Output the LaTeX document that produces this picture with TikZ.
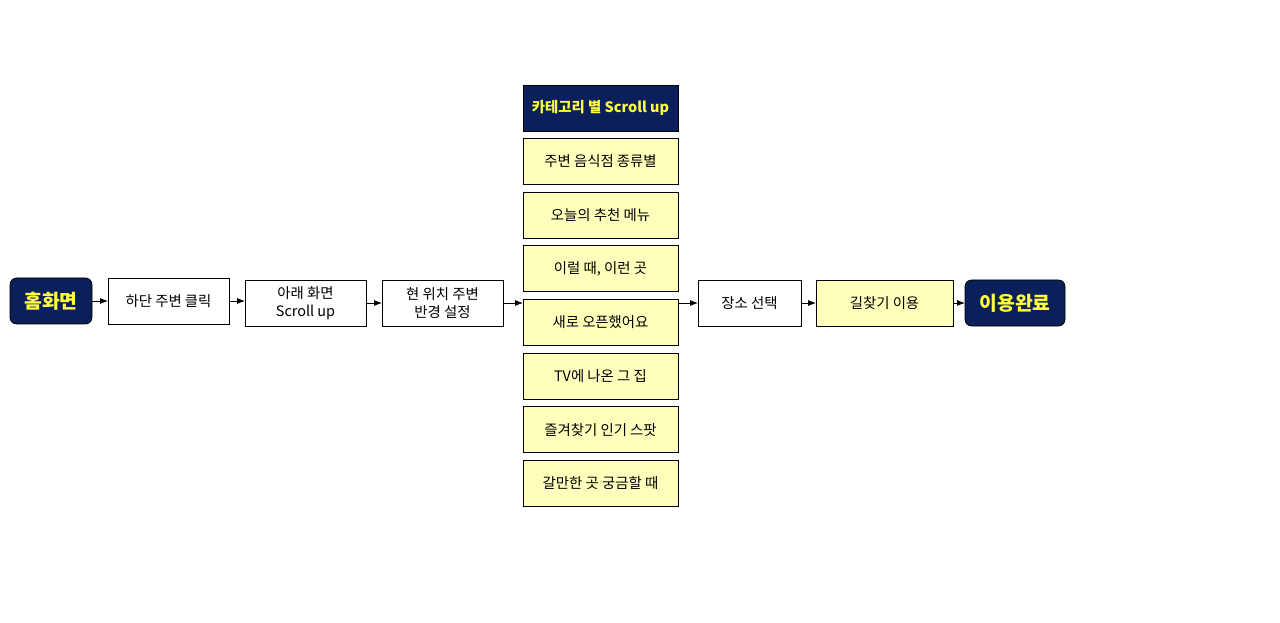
\documentclass[tikz,border=0pt]{standalone}
\usepackage{fontspec}
\setmainfont{Noto Sans CJK KR}
\usepackage{tikz}
\usetikzlibrary{arrows.meta}
\usetikzlibrary{positioning}
\definecolor{navy}{HTML}{0B1F5B}
\definecolor{hiyellow}{HTML}{FFFF3C}
\definecolor{paleyellow}{HTML}{FFFFBB}
\tikzset{%
  base/.style = {rectangle, draw=black, line width=0.6pt, minimum height=34.5pt, inner sep=0pt, outer sep=0pt, font=\fontsize{10.8}{13.5}\selectfont},
  endpoint/.style = {fill=navy, draw=black, rounded corners=5pt, text=hiyellow, font=\fontsize{14.5}{17}\selectfont\bfseries},
  choice/.style = {fill=paleyellow, minimum width=116.25pt},
  header/.style = {fill=navy, text=hiyellow, minimum width=116.25pt, font=\fontsize{10.8}{13.5}\selectfont\bfseries}
}

\begin{document}
\begin{tikzpicture}[%
    x=0.75pt, y=-0.75pt,
    node distance=12pt,
    every node/.style={base},
    >={Latex[length=6pt,width=4.5pt]},
    line width=0.6pt,
    align=center]

  \useasboundingbox[fill=white] (0,0) rectangle (1280,623);

  % Specification of nodes (position, etc.)
  \node (home) [endpoint, minimum width=61.5pt] at (51,301) {홈화면};
  \node (bottom-click) [right=of home, minimum width=90.75pt] {하단 주변 클릭};
  \node (scroll-down) [right=of bottom-click, minimum width=90.75pt, yshift=-1.5pt] {아래 화면\\Scroll up};
  \node (radius) [right=of scroll-down, minimum width=90.75pt] {현 위치 주변\\반경 설정};

  % category column
  \node (cat-head) [header] at (600.5,108) {카테고리 별 Scroll up};
  \node (cat-food) [choice, below=5.7pt of cat-head] {주변 음식점 종류별};
  \node (cat-menu) [choice, below=5.7pt of cat-food] {오늘의 추천 메뉴};
  \node (cat-when) [choice, below=5.7pt of cat-menu] {이럴 때, 이런 곳};
  \node (cat-new) [choice, below=5.7pt of cat-when] {새로 오픈했어요};
  \node (cat-tv) [choice, below=5.7pt of cat-new] {TV에 나온 그 집};
  \node (cat-fav) [choice, below=5.7pt of cat-tv] {즐겨찾기 인기 스팟};
  \node (cat-curious) [choice, below=5.7pt of cat-fav] {갈만한 곳 궁금할 때};

  \coordinate (col-out) at (cat-new.east |- radius.east);
  \node (pick) [right=15pt of col-out, minimum width=77.25pt] {장소 선택};
  \node (navi) [right=11.25pt of pick, fill=paleyellow, minimum width=102.75pt] {길찾기 이용};
  \node (done) [endpoint, right=9pt of navi, minimum width=75pt] {이용완료};

  \draw[->] (home) -- (bottom-click);
  \draw[->] (bottom-click) -- (bottom-click -| scroll-down.west);
  \draw[->] (scroll-down) -- (radius);
  \draw[->] (radius.east) -- (radius.east -| cat-new.west);
  \draw[->] (col-out) -- (pick);
  \draw[->] (pick) -- (navi);
  \draw[->] (navi) -- (done);
\end{tikzpicture}
\end{document}
